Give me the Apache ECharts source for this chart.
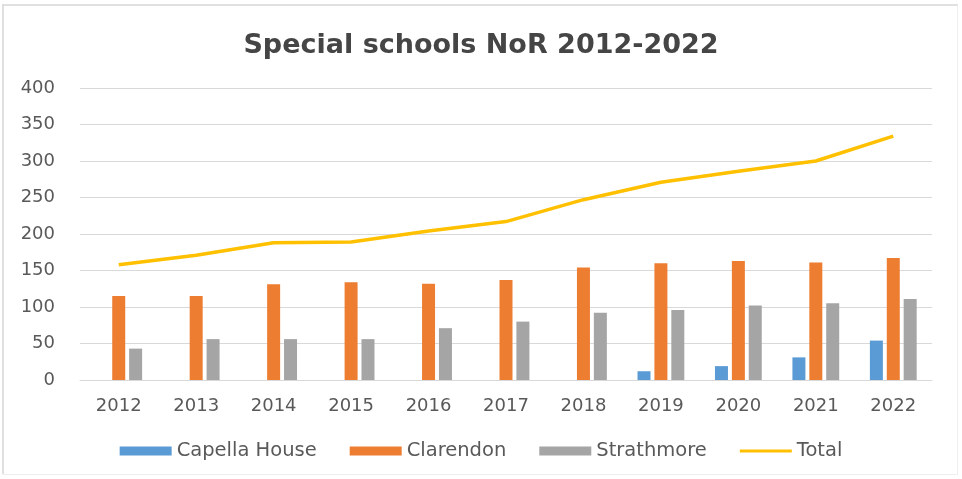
<!DOCTYPE html>
<html><head><meta charset="utf-8">
<script src="https://cdn.jsdelivr.net/npm/echarts@6/dist/echarts.min.js"></script>
<style>html,body{margin:0;padding:0;background:#fff}#c{width:962px;height:479px}</style>
</head><body><div id="c"></div>
<script>
const years = ['2012','2013','2014','2015','2016','2017','2018','2019','2020','2021','2022'];
const capella = [0,0,0,0,0,0,0,12,19,31,54];
const clarendon = [115,115,131,134,132,137,154,160,163,161,167];
const strathmore = [43,56,56,56,71,80,92,96,102,105,111];
const total = [158,171,188,189,204,217,247,271,286,300,334];
const yTicks = {min:0, max:400, interval:50};

const chart = echarts.init(document.getElementById('c'));
const txt = '#595959';
const font = "'DejaVu Sans', sans-serif";
chart.setOption({
  animation:false,
  textStyle:{fontFamily:font},
  title:{text:'Special schools NoR 2012-2022', left:'center', top:27,
    textStyle:{fontSize:27, fontWeight:'bold', color:'#454545', fontFamily:"'DejaVu Sans', sans-serif"}},
  graphic:[
    {type:'line', shape:{x1:2,y1:5,x2:958,y2:5}, style:{stroke:'#d6d6d6', lineWidth:1.5}},
    {type:'line', shape:{x1:3,y1:5,x2:3,y2:474}, style:{stroke:'#d6d6d6', lineWidth:1.5}},
    {type:'line', shape:{x1:957.5,y1:5,x2:957.5,y2:474}, style:{stroke:'#eeeeee', lineWidth:1}},
    {type:'line', shape:{x1:3,y1:474.5,x2:958,y2:474.5}, style:{stroke:'#eeeeee', lineWidth:1}}
  ],
  legend:{top:436, left:'center', itemWidth:52, itemHeight:9, itemGap:33,
    textStyle:{fontSize:19.5, color:txt, fontFamily:font},
    data:[{name:'Capella House', icon:'rect'},{name:'Clarendon', icon:'rect'},{name:'Strathmore', icon:'rect'},
          {name:'Total', icon:'path://M0,0H52V3H0Z'}]},
  grid:{left:80, right:30, top:88, bottom:99},
  xAxis:{type:'category', data:years, boundaryGap:true,
    axisLine:{lineStyle:{color:'#d9d9d9'}}, axisTick:{show:false},
    axisLabel:{color:txt, fontSize:18, margin:17}},
  yAxis:{type:'value', min:yTicks.min, max:yTicks.max, interval:yTicks.interval,
    splitLine:{lineStyle:{color:'#d9d9d9'}}, axisLine:{show:false}, axisTick:{show:false},
    axisLabel:{color:txt, fontSize:18, margin:25}},
  series:[
    {name:'Capella House', type:'bar', data:capella, barWidth:13, barGap:'30%', itemStyle:{color:'#5B9BD5'}},
    {name:'Clarendon', type:'bar', data:clarendon, barWidth:13, barGap:'30%', itemStyle:{color:'#ED7D31'}},
    {name:'Strathmore', type:'bar', data:strathmore, barWidth:13, barGap:'30%', itemStyle:{color:'#A5A5A5'}},
    {name:'Total', type:'line', data:total, symbol:'none', lineStyle:{color:'#FFC000', width:3.5}, itemStyle:{color:'#FFC000'}, z:5}
  ]
});
</script></body></html>
